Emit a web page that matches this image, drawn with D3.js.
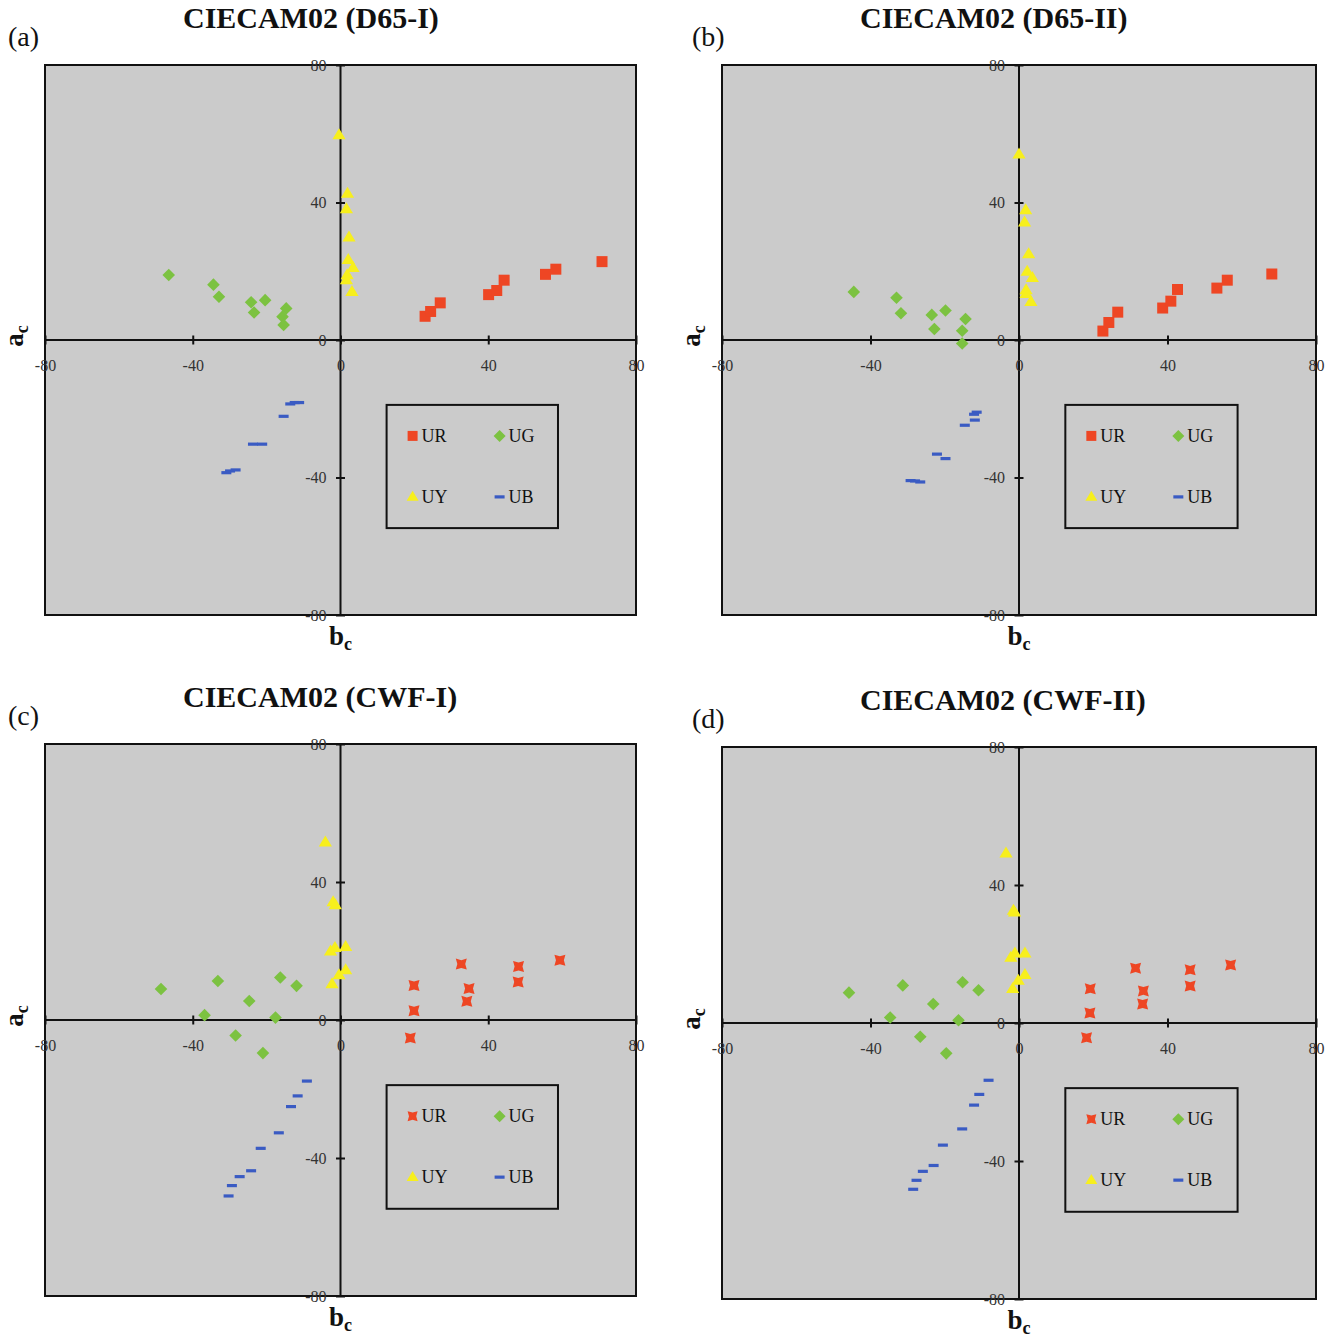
<!DOCTYPE html>
<html>
<head>
<meta charset="utf-8">
<script src="https://cdn.jsdelivr.net/npm/d3@7"></script>
<style>
  body { margin: 0; background: #fff; }
  svg { display: block; }
  text { font-family: "Liberation Serif", "Times New Roman", serif; }
</style>
</head>
<body>
<div id="chart"></div>
<script>
// axis ticks shared by every panel
const tickValues = [-80, -40, 0, 40, 80];
const panelLetters = ["(a)", "(b)", "(c)", "(d)"];
const panelTitles = ["CIECAM02 (D65-I)", "CIECAM02 (D65-II)", "CIECAM02 (CWF-I)", "CIECAM02 (CWF-II)"];
const seriesNames = ["UR", "UG", "UY", "UB"];

// points as [bc, ac]
const d65I_UR = [[22.9, 6.9], [24.4, 8.3], [27.0, 10.8], [40.1, 13.2], [42.3, 14.4], [44.3, 17.4], [55.5, 19.1], [58.3, 20.6], [70.8, 22.8]];
const d65I_UG = [[-46.5, 18.9], [-34.4, 16.1], [-32.9, 12.6], [-24.2, 11.0], [-20.4, 11.6], [-23.4, 8.0], [-14.7, 9.2], [-15.7, 6.8], [-15.4, 4.4]];
const d65I_UY = [[-0.4, 59.6], [1.9, 42.6], [1.6, 38.1], [2.3, 29.9], [2.1, 23.3], [3.4, 21.0], [1.8, 18.9], [1.6, 17.4], [3.1, 14.0]];
const d65I_UB = [[-13.6, -18.6], [-12.4, -18.2], [-11.2, -18.2], [-15.4, -22.2], [-23.7, -30.3], [-21.2, -30.3], [-30.9, -38.6], [-29.9, -38.1], [-28.4, -37.8]];

const d65II_UR = [[22.6, 2.6], [24.2, 5.1], [26.6, 8.1], [38.7, 9.3], [40.9, 11.3], [42.7, 14.7], [53.3, 15.1], [56.1, 17.4], [68.1, 19.2]];
const d65II_UG = [[-44.5, 14.0], [-33.0, 12.3], [-31.8, 7.8], [-23.5, 7.3], [-19.8, 8.6], [-22.8, 3.2], [-14.4, 6.1], [-15.3, 2.7], [-15.3, -1.0]];
const d65II_UY = [[0.0, 54.0], [1.8, 37.8], [1.5, 34.2], [2.6, 25.0], [2.2, 19.9], [3.6, 18.1], [1.9, 14.5], [1.9, 13.4], [3.2, 11.1]];
const d65II_UB = [[-11.4, -21.0], [-12.1, -21.6], [-11.9, -23.3], [-14.6, -24.8], [-22.1, -33.2], [-19.8, -34.5], [-29.2, -40.9], [-28.0, -41.0], [-26.6, -41.3]];

const cwfI_UR = [[19.9, 10.0], [19.9, 2.7], [18.9, -5.2], [32.7, 16.2], [34.8, 9.1], [34.2, 5.4], [48.2, 15.5], [48.1, 11.0], [59.4, 17.3]];
const cwfI_UG = [[-48.6, 9.0], [-33.2, 11.3], [-36.8, 1.4], [-24.7, 5.5], [-28.4, -4.5], [-16.3, 12.3], [-11.9, 9.9], [-17.6, 0.7], [-21.0, -9.6]];
const cwfI_UY = [[-4.1, 51.5], [-2.0, 34.2], [-1.4, 33.3], [-1.5, 20.9], [-2.7, 19.9], [1.4, 21.2], [1.4, 14.5], [-0.4, 13.0], [-2.3, 10.4]];
const cwfI_UB = [[-9.1, -17.7], [-11.6, -22.0], [-13.4, -25.1], [-16.7, -32.7], [-21.6, -37.2], [-24.2, -43.7], [-27.3, -45.4], [-29.4, -48.0], [-30.3, -51.0]];

const cwfII_UR = [[19.2, 9.9], [19.1, 2.9], [18.2, -4.3], [31.4, 15.9], [33.5, 9.3], [33.3, 5.5], [46.1, 15.4], [46.1, 10.7], [57.0, 16.8]];
const cwfII_UG = [[-45.8, 8.8], [-31.3, 10.9], [-34.7, 1.6], [-23.1, 5.5], [-26.6, -4.0], [-15.2, 11.8], [-10.9, 9.5], [-16.3, 0.8], [-19.6, -8.8]];
const cwfII_UY = [[-3.5, 49.2], [-1.5, 32.6], [-1.2, 32.1], [-1.1, 20.2], [-2.2, 19.0], [1.6, 20.2], [1.6, 14.0], [-0.2, 12.3], [-1.7, 9.9]];
const cwfII_UB = [[-8.2, -16.6], [-10.7, -20.7], [-12.1, -23.8], [-15.3, -30.7], [-20.5, -35.4], [-23.0, -41.3], [-25.9, -43.0], [-27.6, -45.6], [-28.5, -48.2]];

const colors = { UR: "#ee4624", UG: "#7cc241", UY: "#f7ef1d", UB: "#3a5bc3" };

const svg = d3.select("#chart").append("svg")
    .attr("width", 1333)
    .attr("height", 1337);

// marker outlines, centred on 0,0
function markerPath(name, s, notched) {
    if (name === "UR") {
        const h = s / 2;
        if (!notched) return `M${-h},${-h}H${h}V${h}H${-h}Z`;
        const n = h * 0.72;
        return `M${-h},${-h}L0,${-n}L${h},${-h}L${n},0L${h},${h}L0,${n}L${-h},${h}L${-n},0Z`;
    }
    if (name === "UG") {
        const r = s * 0.6;
        return `M0,${-r}L${r},0L0,${r}L${-r},0Z`;
    }
    if (name === "UY") {
        const w = s * 1.2, h = s * 1.0;
        return `M0,${-h * 0.62}L${w / 2},${h * 0.38}L${-w / 2},${h * 0.38}Z`;
    }
    const w = s, h = 3.2;
    return `M${-w / 2},${-h / 2}H${w / 2}V${h / 2}H${-w / 2}Z`;
}

const markerSize = { UR: 11, UG: 10.5, UY: 11, UB: 10 };

function drawPanel(idx, frame, data, notched) {
    const g = svg.append("g");
    const x = d3.scaleLinear().domain([-80, 80]).range([frame.x, frame.x + frame.w]);
    const y = d3.scaleLinear().domain([-80, 80]).range([frame.y + frame.h, frame.y]);

    g.append("rect")
        .attr("x", frame.x).attr("y", frame.y)
        .attr("width", frame.w).attr("height", frame.h)
        .attr("fill", "#cbcbcb")
        .attr("stroke", "#111").attr("stroke-width", 2);

    // zero lines
    g.append("line")
        .attr("x1", x(0)).attr("x2", x(0)).attr("y1", y(80)).attr("y2", y(-80))
        .attr("stroke", "#111").attr("stroke-width", 2);
    g.append("line")
        .attr("x1", x(-80)).attr("x2", x(80)).attr("y1", y(0)).attr("y2", y(0))
        .attr("stroke", "#111").attr("stroke-width", 2);

    const fmt = d => String(d);

    const xAxis = g.append("g")
        .attr("transform", `translate(0,${y(0)})`)
        .call(d3.axisBottom(x).tickValues(tickValues).tickSize(0).tickFormat(fmt));
    xAxis.select(".domain").remove();
    xAxis.selectAll(".tick line").attr("y1", -4.5).attr("y2", 4.5)
        .attr("stroke", "#111").attr("stroke-width", 2);
    xAxis.selectAll(".tick text").attr("y", 20)
        .attr("font-size", 16).attr("font-family", "Liberation Serif").attr("fill", "#333");

    const yAxis = g.append("g")
        .attr("transform", `translate(${x(0)},0)`)
        .call(d3.axisLeft(y).tickValues(tickValues).tickSize(0).tickFormat(fmt));
    yAxis.select(".domain").remove();
    yAxis.selectAll(".tick line").attr("x1", -4.5).attr("x2", 4.5)
        .attr("stroke", "#111").attr("stroke-width", 2);
    yAxis.selectAll(".tick text").attr("x", -14)
        .attr("font-size", 16).attr("font-family", "Liberation Serif").attr("fill", "#333");

    // series
    seriesNames.forEach((name, k) => {
        g.append("g").selectAll("path")
            .data(data[k])
            .join("path")
            .attr("transform", d => `translate(${x(d[0])},${y(d[1])})`)
            .attr("d", markerPath(name, markerSize[name], notched))
            .attr("fill", colors[name]);
    });

    // legend
    const lx = frame.x + frame.w * 0.578, ly = frame.y + frame.h * 0.618;
    const lw = frame.w * 0.29, lh = frame.h * 0.224;
    g.append("rect")
        .attr("x", lx).attr("y", ly).attr("width", lw).attr("height", lh)
        .attr("fill", "none").attr("stroke", "#111").attr("stroke-width", 2);
    const slots = [[26, 31], [113, 31], [26, 92], [113, 92]];
    seriesNames.forEach((name, k) => {
        const [ox, oy] = slots[k];
        g.append("path")
            .attr("transform", `translate(${lx + ox},${ly + oy})`)
            .attr("d", markerPath(name, 10, notched))
            .attr("fill", colors[name]);
        g.append("text")
            .attr("x", lx + ox + 9).attr("y", ly + oy + 6)
            .attr("font-size", 18).attr("fill", "#111")
            .text(name);
    });

    // titles and axis names
    g.append("text")
        .attr("x", frame.x + 138).attr("y", frame.y - 37)
        .attr("font-size", 30).attr("font-weight", "bold").attr("fill", "#111")
        .text(panelTitles[idx]);
    g.append("text")
        .attr("x", frame.lx).attr("y", frame.y - 19)
        .attr("font-size", 28).attr("fill", "#111")
        .text(panelLetters[idx]);

    const bc = g.append("text")
        .attr("x", x(0)).attr("y", frame.y + frame.h + 30)
        .attr("text-anchor", "middle")
        .attr("font-size", 27).attr("font-weight", "bold").attr("fill", "#111");
    bc.append("tspan").text("b");
    bc.append("tspan").attr("font-size", 18).attr("dy", 5).text("c");

    const ac = g.append("text")
        .attr("transform", `translate(${frame.x - 22},${y(0) - 4}) rotate(-90)`)
        .attr("text-anchor", "middle")
        .attr("font-size", 27).attr("font-weight", "bold").attr("fill", "#111");
    ac.append("tspan").text("a");
    ac.append("tspan").attr("font-size", 18).attr("dy", 5).text("c");
}

const frames = [
    { x: 45, y: 65, w: 591, h: 550, lx: 8 },
    { x: 722, y: 65, w: 594, h: 550, lx: 692 },
    { x: 45, y: 744, w: 591, h: 552, lx: 8 },
    { x: 722, y: 747, w: 594, h: 552, lx: 692 }
];

drawPanel(0, frames[0], [d65I_UR, d65I_UG, d65I_UY, d65I_UB], false);
drawPanel(1, frames[1], [d65II_UR, d65II_UG, d65II_UY, d65II_UB], false);
drawPanel(2, frames[2], [cwfI_UR, cwfI_UG, cwfI_UY, cwfI_UB], true);
drawPanel(3, frames[3], [cwfII_UR, cwfII_UG, cwfII_UY, cwfII_UB], true);
</script>
</body>
</html>
